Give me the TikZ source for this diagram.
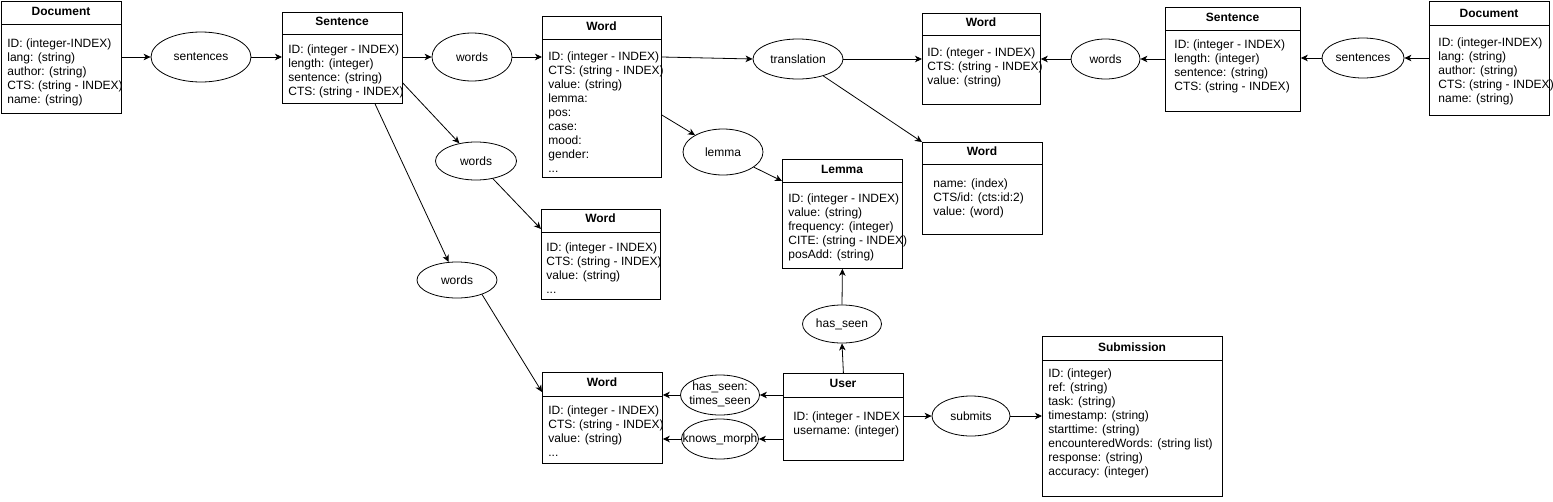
\documentclass[tikz,border=0pt]{standalone}
\usepackage{fontspec}
\setmainfont{Liberation Sans}
\usetikzlibrary{arrows.meta,shapes.geometric}
\begin{document}
\begin{tikzpicture}[x=1pt,y=-1pt,line width=0.8pt,
  every node/.style={inner sep=0pt,font=\fontsize{12}{14}\selectfont},
  ent/.style={draw,rectangle,anchor=north west},
  ttl/.style={font=\fontsize{12}{14}\selectfont\bfseries,text height=8.6pt,text depth=0pt},
  body/.style={anchor=north west,align=left},
  rel/.style={draw,ellipse},
  conn/.style={-{Stealth[length=7pt,width=6.5pt,inset=2pt]}}]
\useasboundingbox (0,0) rectangle (1553,501);
\newcommand\fl{\rule{0pt}{10pt}}
\newcommand\zb[1]{\makebox[0pt]{#1}}

% ---------- entities ----------
% Document (left)
\node[ent,minimum width=120pt,minimum height=112pt] (docL) at (1,1) {};
\draw (docL.west |- 0,24) -- (docL.east |- 0,24);
\node[ttl] (docLh) at (61,11.5) {Document};
\node[body] (docLb) at (7,37) {\fl ID: (integer-INDEX)\\lang: (string)\\author: (string)\\CTS: (string - INDEX)\\name: (string)};

% Sentence (left)
\node[ent,minimum width=120pt,minimum height=91pt] (sentL) at (282,12) {};
\draw (sentL.west |- 0,34) -- (sentL.east |- 0,34);
\node[ttl] (sentLh) at (342,21) {Sentence};
\node[body] (sentLb) at (288,43) {\fl ID: (integer - INDEX)\\length: (integer)\\sentence: (string)\\CTS: (string - INDEX)};

% Word (top)
\node[ent,minimum width=119pt,minimum height=161pt] (wordTop) at (542,16) {};
\draw (wordTop.west |- 0,39) -- (wordTop.east |- 0,39);
\node[ttl] (wordToph) at (601.5,26) {Word};
\node[body] (wordTopb) at (548,50) {\fl ID: (integer - INDEX)\\CTS: (string - INDEX)\\value: (string)\\lemma:\\pos:\\case:\\mood:\\gender:\\...};

% Word (top right)
\node[ent,minimum width=118pt,minimum height=91pt] (wordTR) at (922,13) {};
\draw (wordTR.west |- 0,35) -- (wordTR.east |- 0,35);
\node[ttl] (wordTRh) at (981,22) {Word};
\node[body] (wordTRb) at (927,46) {\fl ID: (nteger - INDEX)\\CTS: (string - INDEX)\\value: (string)};

% Sentence (right)
\node[ent,minimum width=135pt,minimum height=104pt] (sentR) at (1165,7) {};
\draw (sentR.west |- 0,30) -- (sentR.east |- 0,30);
\node[ttl] (sentRh) at (1232.5,17) {Sentence};
\node[body] (sentRb) at (1174,38) {\fl ID: (integer - INDEX)\\length: (integer)\\sentence: (string)\\CTS: (string - INDEX)};

% Document (right)
\node[ent,minimum width=120pt,minimum height=114pt] (docR) at (1429,1) {};
\draw (docR.west |- 0,25) -- (docR.east |- 0,25);
\node[ttl] (docRh) at (1489,13) {Document};
\node[body] (docRb) at (1438,36) {\fl ID: (integer-INDEX)\\lang: (string)\\author: (string)\\CTS: (string - INDEX)\\name: (string)};

% Word (translation target)
\node[ent,minimum width=120pt,minimum height=92pt] (wordTrans) at (922,142) {};
\draw (wordTrans.west |- 0,164) -- (wordTrans.east |- 0,164);
\node[ttl] (wordTransh) at (982,151) {Word};
\node[body] (wordTransb) at (933,177) {\fl name: (index)\\CTS/id: (cts:id:2)\\value: (word)};

% Lemma
\node[ent,minimum width=120pt,minimum height=109pt] (lemmaBox) at (782,159) {};
\draw (lemmaBox.west |- 0,182) -- (lemmaBox.east |- 0,182);
\node[ttl] (lemmaBoxh) at (842,169) {Lemma};
\node[body] (lemmaBoxb) at (788,192) {\fl ID: (integer - INDEX)\\value: (string)\\frequency: (integer)\\CITE: (string - INDEX)\\posAdd: (string)};

% Word (middle)
\node[ent,minimum width=119pt,minimum height=90pt] (wordMid) at (541,209) {};
\draw (wordMid.west |- 0,232) -- (wordMid.east |- 0,232);
\node[ttl] (wordMidh) at (600.5,218) {Word};
\node[body] (wordMidb) at (546,241) {\fl ID: (integer - INDEX)\\CTS: (string - INDEX)\\value: (string)\\...};

% Word (bottom)
\node[ent,minimum width=120pt,minimum height=91pt] (wordBot) at (542,372) {};
\draw (wordBot.west |- 0,396) -- (wordBot.east |- 0,396);
\node[ttl] (wordBoth) at (602,382) {Word};
\node[body] (wordBotb) at (548,404) {\fl ID: (integer - INDEX)\\CTS: (string - INDEX)\\value: (string)\\...};

% User
\node[ent,minimum width=120pt,minimum height=87pt] (user) at (783,373) {};
\draw (user.west |- 0,397) -- (user.east |- 0,397);
\node[ttl] (userh) at (843,383) {User};
\node[body] (userb) at (793,410) {\fl ID: (integer - INDEX\\username: (integer)};

% Submission
\node[ent,minimum width=180pt,minimum height=160pt] (submission) at (1042,336) {};
\draw (submission.west |- 0,360) -- (submission.east |- 0,360);
\node[ttl] (submissionh) at (1132,347) {Submission};
\node[body] (submissionb) at (1048,367) {\fl ID: (integer)\\ref: (string)\\task: (string)\\timestamp: (string)\\starttime: (string)\\encounteredWords: (string list)\\response: (string)\\accuracy: (integer)};

% ---------- relationships ----------
\node[rel,minimum width=100pt,minimum height=50pt] (relSentL) at (201,57) {\zb{sentences}};
\node[rel,minimum width=80pt,minimum height=48pt] (relWordsTop) at (472,57) {\zb{words}};
\node[rel,minimum width=90pt,minimum height=40pt] (relTrans) at (798,59) {\zb{translation}};
\node[rel,minimum width=80pt,minimum height=46pt] (relLemma) at (723,152) {\zb{lemma}};
\node[rel,minimum width=81pt,minimum height=38pt] (relWords2) at (476,161) {\zb{words}};
\node[rel,minimum width=80pt,minimum height=36pt] (relWords3) at (457,280) {\zb{words}};
\node[rel,minimum width=79pt,minimum height=38pt] (relHasSeen) at (842,324) {\zb{has\_seen}};
\node[rel,minimum width=79pt,minimum height=40pt] (relTimes) at (720,395) {\zb{\begin{tabular}{@{}c@{}}has\_seen:\\times\_seen\end{tabular}}};
\node[rel,minimum width=77pt,minimum height=40pt] (relKnows) at (720,439) {\zb{knows\_morph}};
\node[rel,minimum width=78pt,minimum height=40pt] (relSubmits) at (971,416) {\zb{submits}};
\node[rel,minimum width=69pt,minimum height=40pt] (relWordsR) at (1105.5,59) {\zb{words}};
\node[rel,minimum width=82pt,minimum height=40pt] (relSentR) at (1363,58) {\zb{sentences}};

% ---------- connectors ----------
\draw[conn] (docL.east |- relSentL.west) -- (relSentL.west);
\draw[conn] (relSentL.east) -- (sentL.west |- relSentL.east);
\draw[conn] (sentL.east |- relWordsTop.west) -- (relWordsTop.west);
\draw[conn] (relWordsTop.east) -- (wordTop.west |- relWordsTop.east);
\draw[conn] ([yshift=-41pt]wordTop.north east) -- (relTrans.west);
\draw[conn] (relTrans.east) -- (wordTrans.west |- relTrans.east);
\draw[conn] (relTrans) -- (wordTrans.north west);
\draw[conn] ([yshift=-99pt]wordTop.north east) -- (relLemma);
\draw[conn] (relLemma) -- ([yshift=-22pt]lemmaBox.north west);
\draw[conn] ([yshift=-71pt]sentL.north east) -- (relWords2);
\draw[conn] (relWords2) -- ([yshift=-20pt]wordMid.north west);
\draw[conn] ([xshift=93pt]sentL.south west) -- (relWords3);
\draw[conn] (relWords3.-30) -- ([yshift=-20pt]wordBot.north west);
\draw[conn] (user.north) -- (relHasSeen.south);
\draw[conn] (relHasSeen.north) -- (lemmaBox.south);
\draw[conn] (user.west |- relTimes.east) -- (relTimes.east);
\draw[conn] (relTimes.west) -- (wordBot.east |- relTimes.west);
\draw[conn] (user.west |- relKnows.east) -- (relKnows.east);
\draw[conn] (relKnows.west) -- (wordBot.east |- relKnows.west);
\draw[conn] (user.east |- relSubmits.west) -- (relSubmits.west);
\draw[conn] (relSubmits.east) -- (submission.west |- relSubmits.east);
\draw[conn] (relWordsR.west) -- (wordTR.east |- relWordsR.west);
\draw[conn] (sentR.west |- relWordsR.east) -- (relWordsR.east);
\draw[conn] (relSentR.west) -- (sentR.east |- relSentR.west);
\draw[conn] (docR.west |- relSentR.east) -- (relSentR.east);
\end{tikzpicture}
\end{document}
